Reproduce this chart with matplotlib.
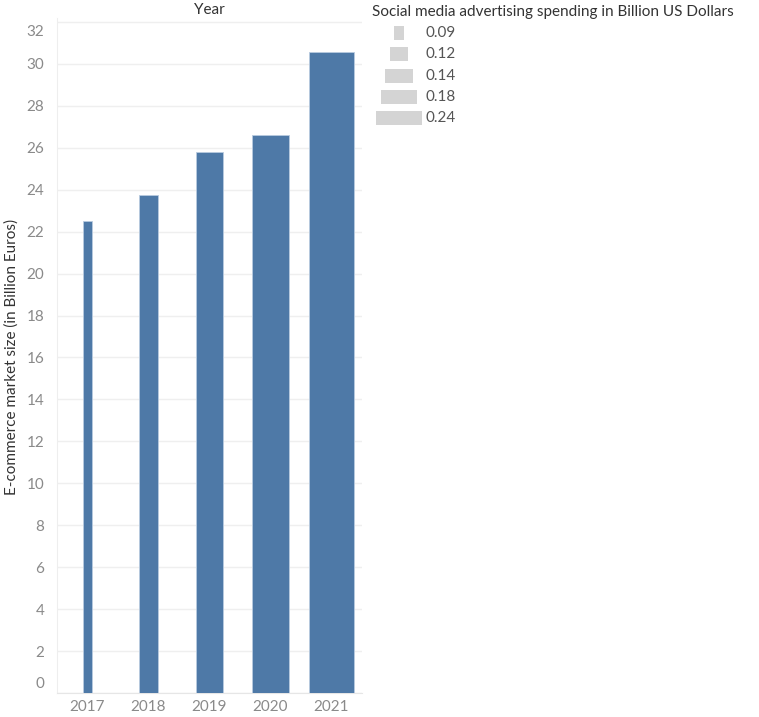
import numpy as np
import matplotlib
matplotlib.use("Agg")
import matplotlib.pyplot as plt
import matplotlib.transforms as mtransforms

years = ["2017", "2018", "2019", "2020", "2021"]
market_size = [22.5, 23.75, 25.8, 26.6, 30.55]
ad_spending = [0.09, 0.12, 0.14, 0.18, 0.24]
legend_labels = ["0.09", "0.12", "0.14", "0.18", "0.24"]
y_ticks = list(range(0, 33, 2))

plt.rcParams["font.family"] = ["Lato", "DejaVu Sans"]

BLUE = "#4e79a7"
TICK_GREY = "#8a8a8a"
DARK = "#333333"

fig = plt.figure(figsize=(7.59, 7.17), dpi=100)
W, H = 759, 717
top_px, bottom_px, left_px, right_px = 18, 693, 57, 362
ax = fig.add_axes([left_px / W, 1 - bottom_px / H,
                   (right_px - left_px) / W, (bottom_px - top_px) / H])

# bar width follows the rank of the spending value (ordinal size scale)
ranks = np.argsort(np.argsort(ad_spending))
widths = 0.15 * (ranks + 1)

x = np.arange(len(years))
ax.bar(x, market_size, width=widths, color=BLUE, edgecolor="#b9cbe0",
       linewidth=0.6, zorder=3)

ax.set_xlim(-0.5, len(years) - 0.5)
ax.set_ylim(0, (bottom_px - top_px) / 20.97)
ax.set_yticks(y_ticks)
ax.set_yticklabels([str(v) for v in y_ticks])
ax.set_xticks(x)
ax.set_xticklabels(years)
ax.grid(axis="y", color="#efefef", linewidth=1.0, zorder=0)
ax.tick_params(axis="both", length=0, labelsize=11, labelcolor=TICK_GREY)
ax.tick_params(axis="x", pad=5)
ax.tick_params(axis="y", pad=9)

for side in ["top", "right"]:
    ax.spines[side].set_visible(False)
ax.spines["left"].set_color("#eeeeee")
ax.spines["bottom"].set_color("#e6e6e6")

# Tableau nudges the edge labels inside the axis
labels = ax.get_yticklabels()
labels[0].set_transform(labels[0].get_transform() +
                        mtransforms.ScaledTranslation(0, 10 / 100, fig.dpi_scale_trans))
labels[-1].set_transform(labels[-1].get_transform() +
                         mtransforms.ScaledTranslation(0, -9 / 100, fig.dpi_scale_trans))

fig.text(12 / W, 1 - 357 / H, "E-commerce market size (in Billion Euros)",
         rotation=90, ha="center", va="center", fontsize=11, color=DARK)
fig.text(209 / W, 1 - 10 / H, "Year", ha="center", va="center",
         fontsize=11, color=DARK)

# size legend
fig.text(372 / W, 1 - 12 / H, "Social media advertising spending in Billion US Dollars",
         ha="left", va="center", fontsize=11, color=DARK)
leg_ax = fig.add_axes([0, 0, 1, 1], facecolor="none")
leg_ax.set_xlim(0, W)
leg_ax.set_ylim(H, 0)
leg_ax.axis("off")
for i, lab in enumerate(legend_labels):
    yc = 33 + i * 21.3
    w = 9.2 * (ranks[i] + 1)
    leg_ax.add_patch(plt.Rectangle((399 - w / 2, yc - 7), w, 14,
                                   color="#d4d4d4", linewidth=0))
    leg_ax.text(426, yc, lab, ha="left", va="center", fontsize=11, color="#555555")

fig.savefig("out.png", dpi=100, facecolor="white")
